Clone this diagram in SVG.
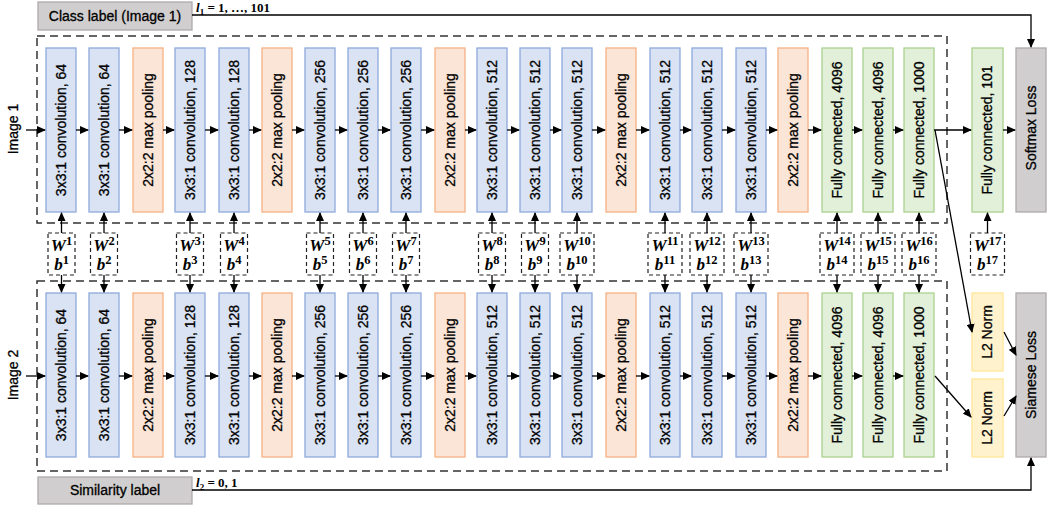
<svg xmlns="http://www.w3.org/2000/svg" width="1053" height="508" viewBox="0 0 1053 508">
<defs>
<marker id="ah" markerUnits="userSpaceOnUse" markerWidth="9" markerHeight="8" refX="8" refY="4" orient="auto"><path d="M0,0 L9,4 L0,8 z" fill="#000"/></marker>
<style>
.conv{fill:#dae3f3;stroke:#8faadc;stroke-width:1.3}
.pool{fill:#fbe5d6;stroke:#f4b183;stroke-width:1.3}
.fc{fill:#e2f0d9;stroke:#a9d18e;stroke-width:1.3}
.gray{fill:#d0cece;stroke:#aeaaaa;stroke-width:1.3}
.l2{fill:#fff2cc;stroke:#ffe699;stroke-width:1.3}
.t{font-family:"Liberation Sans",Arial,sans-serif;font-size:14px;fill:#000;stroke:#000;stroke-width:0.3;text-anchor:middle}
.ts{font-family:"Liberation Sans",Arial,sans-serif;font-size:14px;fill:#000;stroke:#000;stroke-width:0.3;text-anchor:middle}
.p{font-family:"Liberation Serif","Times New Roman",serif;font-size:17px;font-weight:bold;font-style:italic;fill:#000;text-anchor:middle}
.sup{font-size:12.5px;font-style:normal}
.lab{font-family:"Liberation Serif","Times New Roman",serif;font-size:13px;font-weight:bold;fill:#000}
.outer{fill:none;stroke:#333;stroke-width:1.5;stroke-dasharray:8 5}
.pbox{fill:#fff;stroke:#222;stroke-width:1.2;stroke-dasharray:4 3}
.ar{fill:none;stroke:#000;stroke-width:1.3;marker-end:url(#ah)}
</style>
</defs>
<rect width="1053" height="508" fill="#fff"/>

<g id="frames">
<rect class="outer" x="37" y="36" width="910" height="187"/>
<rect class="outer" x="37" y="281" width="910" height="190"/>
</g>

<g id="labels-side">
<text class="ts" transform="translate(18,129) rotate(-90)">Image 1</text>
<text class="ts" transform="translate(18,375) rotate(-90)">Image 2</text>
</g>

<g id="class-label"><rect class="gray" x="38" y="2" width="154" height="28"/><text class="ts" x="115" y="21">Class label (Image 1)</text></g>
<g id="similarity-label"><rect class="gray" x="38" y="477" width="154" height="27"/><text class="ts" x="115" y="495">Similarity label</text></g>

<g id="row1">
<rect class="conv" x="46" y="48" width="30" height="164"/><text class="t" transform="translate(66,130) rotate(-90)">3x3:1 convolution, 64</text>
<rect class="conv" x="89" y="48" width="30" height="164"/><text class="t" transform="translate(109,130) rotate(-90)">3x3:1 convolution, 64</text>
<rect class="pool" x="133" y="48" width="30" height="164"/><text class="t" transform="translate(153,130) rotate(-90)">2x2:2 max pooling</text>
<rect class="conv" x="175" y="48" width="30" height="164"/><text class="t" transform="translate(195,130) rotate(-90)">3x3:1 convolution, 128</text>
<rect class="conv" x="219" y="48" width="30" height="164"/><text class="t" transform="translate(239,130) rotate(-90)">3x3:1 convolution, 128</text>
<rect class="pool" x="262" y="48" width="30" height="164"/><text class="t" transform="translate(282,130) rotate(-90)">2x2:2 max pooling</text>
<rect class="conv" x="305" y="48" width="30" height="164"/><text class="t" transform="translate(325,130) rotate(-90)">3x3:1 convolution, 256</text>
<rect class="conv" x="348" y="48" width="30" height="164"/><text class="t" transform="translate(368,130) rotate(-90)">3x3:1 convolution, 256</text>
<rect class="conv" x="391" y="48" width="30" height="164"/><text class="t" transform="translate(411,130) rotate(-90)">3x3:1 convolution, 256</text>
<rect class="pool" x="435" y="48" width="30" height="164"/><text class="t" transform="translate(455,130) rotate(-90)">2x2:2 max pooling</text>
<rect class="conv" x="477" y="48" width="30" height="164"/><text class="t" transform="translate(497,130) rotate(-90)">3x3:1 convolution, 512</text>
<rect class="conv" x="520" y="48" width="30" height="164"/><text class="t" transform="translate(540,130) rotate(-90)">3x3:1 convolution, 512</text>
<rect class="conv" x="562" y="48" width="30" height="164"/><text class="t" transform="translate(582,130) rotate(-90)">3x3:1 convolution, 512</text>
<rect class="pool" x="606" y="48" width="30" height="164"/><text class="t" transform="translate(626,130) rotate(-90)">2x2:2 max pooling</text>
<rect class="conv" x="650" y="48" width="30" height="164"/><text class="t" transform="translate(670,130) rotate(-90)">3x3:1 convolution, 512</text>
<rect class="conv" x="692" y="48" width="30" height="164"/><text class="t" transform="translate(712,130) rotate(-90)">3x3:1 convolution, 512</text>
<rect class="conv" x="736" y="48" width="30" height="164"/><text class="t" transform="translate(756,130) rotate(-90)">3x3:1 convolution, 512</text>
<rect class="pool" x="778" y="48" width="30" height="164"/><text class="t" transform="translate(798,130) rotate(-90)">2x2:2 max pooling</text>
<rect class="fc" x="822" y="48" width="30" height="164"/><text class="t" transform="translate(842,130) rotate(-90)">Fully connected, 4096</text>
<rect class="fc" x="863" y="48" width="30" height="164"/><text class="t" transform="translate(883,130) rotate(-90)">Fully connected, 4096</text>
<rect class="fc" x="904" y="48" width="30" height="164"/><text class="t" transform="translate(924,130) rotate(-90)">Fully connected, 1000</text>
</g>

<g id="row2">
<rect class="conv" x="46" y="293" width="30" height="164"/><text class="t" transform="translate(66,375) rotate(-90)">3x3:1 convolution, 64</text>
<rect class="conv" x="89" y="293" width="30" height="164"/><text class="t" transform="translate(109,375) rotate(-90)">3x3:1 convolution, 64</text>
<rect class="pool" x="133" y="293" width="30" height="164"/><text class="t" transform="translate(153,375) rotate(-90)">2x2:2 max pooling</text>
<rect class="conv" x="175" y="293" width="30" height="164"/><text class="t" transform="translate(195,375) rotate(-90)">3x3:1 convolution, 128</text>
<rect class="conv" x="219" y="293" width="30" height="164"/><text class="t" transform="translate(239,375) rotate(-90)">3x3:1 convolution, 128</text>
<rect class="pool" x="262" y="293" width="30" height="164"/><text class="t" transform="translate(282,375) rotate(-90)">2x2:2 max pooling</text>
<rect class="conv" x="305" y="293" width="30" height="164"/><text class="t" transform="translate(325,375) rotate(-90)">3x3:1 convolution, 256</text>
<rect class="conv" x="348" y="293" width="30" height="164"/><text class="t" transform="translate(368,375) rotate(-90)">3x3:1 convolution, 256</text>
<rect class="conv" x="391" y="293" width="30" height="164"/><text class="t" transform="translate(411,375) rotate(-90)">3x3:1 convolution, 256</text>
<rect class="pool" x="435" y="293" width="30" height="164"/><text class="t" transform="translate(455,375) rotate(-90)">2x2:2 max pooling</text>
<rect class="conv" x="477" y="293" width="30" height="164"/><text class="t" transform="translate(497,375) rotate(-90)">3x3:1 convolution, 512</text>
<rect class="conv" x="520" y="293" width="30" height="164"/><text class="t" transform="translate(540,375) rotate(-90)">3x3:1 convolution, 512</text>
<rect class="conv" x="562" y="293" width="30" height="164"/><text class="t" transform="translate(582,375) rotate(-90)">3x3:1 convolution, 512</text>
<rect class="pool" x="606" y="293" width="30" height="164"/><text class="t" transform="translate(626,375) rotate(-90)">2x2:2 max pooling</text>
<rect class="conv" x="650" y="293" width="30" height="164"/><text class="t" transform="translate(670,375) rotate(-90)">3x3:1 convolution, 512</text>
<rect class="conv" x="692" y="293" width="30" height="164"/><text class="t" transform="translate(712,375) rotate(-90)">3x3:1 convolution, 512</text>
<rect class="conv" x="736" y="293" width="30" height="164"/><text class="t" transform="translate(756,375) rotate(-90)">3x3:1 convolution, 512</text>
<rect class="pool" x="778" y="293" width="30" height="164"/><text class="t" transform="translate(798,375) rotate(-90)">2x2:2 max pooling</text>
<rect class="fc" x="822" y="293" width="30" height="164"/><text class="t" transform="translate(842,375) rotate(-90)">Fully connected, 4096</text>
<rect class="fc" x="863" y="293" width="30" height="164"/><text class="t" transform="translate(883,375) rotate(-90)">Fully connected, 4096</text>
<rect class="fc" x="904" y="293" width="30" height="164"/><text class="t" transform="translate(924,375) rotate(-90)">Fully connected, 1000</text>
</g>

<g id="heads">
<rect class="fc" x="972" y="48" width="31" height="164"/><text class="t" transform="translate(992,130) rotate(-90)">Fully connected, 101</text>
<rect class="gray" x="1016" y="48" width="30" height="164"/><text class="ts" transform="translate(1036,128) rotate(-90)">Softmax Loss</text>
<rect class="l2" x="972" y="293" width="31" height="78"/><text class="ts" transform="translate(992,332) rotate(-90)">L2 Norm</text>
<rect class="l2" x="972" y="379" width="31" height="78"/><text class="ts" transform="translate(992,418) rotate(-90)">L2 Norm</text>
<rect class="gray" x="1016" y="293" width="30" height="164"/><text class="ts" transform="translate(1036,375) rotate(-90)">Siamese Loss</text>
</g>

<g id="params">
<rect class="pbox" x="48" y="233" width="27" height="42"/><text class="p" x="61.5" y="251">W<tspan class="sup" dy="-6">1</tspan></text><text class="p" x="61.5" y="270">b<tspan class="sup" dy="-6">1</tspan></text>
<rect class="pbox" x="90.5" y="233" width="27" height="42"/><text class="p" x="104" y="251">W<tspan class="sup" dy="-6">2</tspan></text><text class="p" x="104" y="270">b<tspan class="sup" dy="-6">2</tspan></text>
<rect class="pbox" x="176.5" y="233" width="27" height="42"/><text class="p" x="190" y="251">W<tspan class="sup" dy="-6">3</tspan></text><text class="p" x="190" y="270">b<tspan class="sup" dy="-6">3</tspan></text>
<rect class="pbox" x="220.5" y="233" width="27" height="42"/><text class="p" x="234" y="251">W<tspan class="sup" dy="-6">4</tspan></text><text class="p" x="234" y="270">b<tspan class="sup" dy="-6">4</tspan></text>
<rect class="pbox" x="306.5" y="233" width="27" height="42"/><text class="p" x="320" y="251">W<tspan class="sup" dy="-6">5</tspan></text><text class="p" x="320" y="270">b<tspan class="sup" dy="-6">5</tspan></text>
<rect class="pbox" x="349.5" y="233" width="27" height="42"/><text class="p" x="363" y="251">W<tspan class="sup" dy="-6">6</tspan></text><text class="p" x="363" y="270">b<tspan class="sup" dy="-6">6</tspan></text>
<rect class="pbox" x="392.5" y="233" width="27" height="42"/><text class="p" x="406" y="251">W<tspan class="sup" dy="-6">7</tspan></text><text class="p" x="406" y="270">b<tspan class="sup" dy="-6">7</tspan></text>
<rect class="pbox" x="478.5" y="233" width="27" height="42"/><text class="p" x="492" y="251">W<tspan class="sup" dy="-6">8</tspan></text><text class="p" x="492" y="270">b<tspan class="sup" dy="-6">8</tspan></text>
<rect class="pbox" x="521.5" y="233" width="27" height="42"/><text class="p" x="535" y="251">W<tspan class="sup" dy="-6">9</tspan></text><text class="p" x="535" y="270">b<tspan class="sup" dy="-6">9</tspan></text>
<rect class="pbox" x="560" y="233" width="34" height="42"/><text class="p" x="577" y="251">W<tspan class="sup" dy="-6">10</tspan></text><text class="p" x="577" y="270">b<tspan class="sup" dy="-6">10</tspan></text>
<rect class="pbox" x="648" y="233" width="34" height="42"/><text class="p" x="665" y="251">W<tspan class="sup" dy="-6">11</tspan></text><text class="p" x="665" y="270">b<tspan class="sup" dy="-6">11</tspan></text>
<rect class="pbox" x="690" y="233" width="34" height="42"/><text class="p" x="707" y="251">W<tspan class="sup" dy="-6">12</tspan></text><text class="p" x="707" y="270">b<tspan class="sup" dy="-6">12</tspan></text>
<rect class="pbox" x="734" y="233" width="34" height="42"/><text class="p" x="751" y="251">W<tspan class="sup" dy="-6">13</tspan></text><text class="p" x="751" y="270">b<tspan class="sup" dy="-6">13</tspan></text>
<rect class="pbox" x="820" y="233" width="34" height="42"/><text class="p" x="837" y="251">W<tspan class="sup" dy="-6">14</tspan></text><text class="p" x="837" y="270">b<tspan class="sup" dy="-6">14</tspan></text>
<rect class="pbox" x="861" y="233" width="34" height="42"/><text class="p" x="878" y="251">W<tspan class="sup" dy="-6">15</tspan></text><text class="p" x="878" y="270">b<tspan class="sup" dy="-6">15</tspan></text>
<rect class="pbox" x="902" y="233" width="34" height="42"/><text class="p" x="919" y="251">W<tspan class="sup" dy="-6">16</tspan></text><text class="p" x="919" y="270">b<tspan class="sup" dy="-6">16</tspan></text>
<rect class="pbox" x="970.5" y="233" width="34" height="42"/><text class="p" x="987.5" y="251">W<tspan class="sup" dy="-6">17</tspan></text><text class="p" x="987.5" y="270">b<tspan class="sup" dy="-6">17</tspan></text>
</g>

<g id="connectors">
<path class="ar" d="M26,130 H45"/>
<path class="ar" d="M76,130 H88"/><path class="ar" d="M119,130 H132"/><path class="ar" d="M163,130 H174"/><path class="ar" d="M205,130 H218"/><path class="ar" d="M249,130 H261"/><path class="ar" d="M292,130 H304"/><path class="ar" d="M335,130 H347"/><path class="ar" d="M378,130 H390"/><path class="ar" d="M421,130 H434"/><path class="ar" d="M465,130 H476"/><path class="ar" d="M507,130 H519"/><path class="ar" d="M550,130 H561"/><path class="ar" d="M592,130 H605"/><path class="ar" d="M636,130 H649"/><path class="ar" d="M680,130 H691"/><path class="ar" d="M722,130 H735"/><path class="ar" d="M766,130 H777"/><path class="ar" d="M808,130 H821"/><path class="ar" d="M852,130 H862"/><path class="ar" d="M893,130 H903"/>
<path class="ar" d="M26,376 H45"/>
<path class="ar" d="M76,376 H88"/><path class="ar" d="M119,376 H132"/><path class="ar" d="M163,376 H174"/><path class="ar" d="M205,376 H218"/><path class="ar" d="M249,376 H261"/><path class="ar" d="M292,376 H304"/><path class="ar" d="M335,376 H347"/><path class="ar" d="M378,376 H390"/><path class="ar" d="M421,376 H434"/><path class="ar" d="M465,376 H476"/><path class="ar" d="M507,376 H519"/><path class="ar" d="M550,376 H561"/><path class="ar" d="M592,376 H605"/><path class="ar" d="M636,376 H649"/><path class="ar" d="M680,376 H691"/><path class="ar" d="M722,376 H735"/><path class="ar" d="M766,376 H777"/><path class="ar" d="M808,376 H821"/><path class="ar" d="M852,376 H862"/><path class="ar" d="M893,376 H903"/>

<path class="ar" d="M934,130 H971"/>
<path class="ar" d="M1003,130 H1015"/>
<path class="ar" d="M935,130 L972,332"/>
<path class="ar" d="M935,376 L971,417"/>
<path class="ar" d="M1004,332 L1016,355"/>
<path class="ar" d="M1004,416 L1016,396"/>

<path class="ar" d="M192,15 H1031 V47"/>
<path class="ar" d="M192,490 H1031 V458"/>

<path class="ar" d="M61.5,233 V213"/><path class="ar" d="M61.5,275 V292"/>
<path class="ar" d="M104,233 V213"/><path class="ar" d="M104,275 V292"/>
<path class="ar" d="M190,233 V213"/><path class="ar" d="M190,275 V292"/>
<path class="ar" d="M234,233 V213"/><path class="ar" d="M234,275 V292"/>
<path class="ar" d="M320,233 V213"/><path class="ar" d="M320,275 V292"/>
<path class="ar" d="M363,233 V213"/><path class="ar" d="M363,275 V292"/>
<path class="ar" d="M406,233 V213"/><path class="ar" d="M406,275 V292"/>
<path class="ar" d="M492,233 V213"/><path class="ar" d="M492,275 V292"/>
<path class="ar" d="M535,233 V213"/><path class="ar" d="M535,275 V292"/>
<path class="ar" d="M577,233 V213"/><path class="ar" d="M577,275 V292"/>
<path class="ar" d="M665,233 V213"/><path class="ar" d="M665,275 V292"/>
<path class="ar" d="M707,233 V213"/><path class="ar" d="M707,275 V292"/>
<path class="ar" d="M751,233 V213"/><path class="ar" d="M751,275 V292"/>
<path class="ar" d="M837,233 V213"/><path class="ar" d="M837,275 V292"/>
<path class="ar" d="M878,233 V213"/><path class="ar" d="M878,275 V292"/>
<path class="ar" d="M919,233 V213"/><path class="ar" d="M919,275 V292"/>
<path class="ar" d="M987.5,233 V213"/>
</g>

<g id="edge-labels">
<text class="lab" x="196" y="12"><tspan font-style="italic">l</tspan><tspan font-size="9" dy="3">1</tspan><tspan dy="-3"> = 1, …, 101</tspan></text>
<text class="lab" x="196" y="487"><tspan font-style="italic">l</tspan><tspan font-size="9" dy="3">2</tspan><tspan dy="-3"> = 0, 1</tspan></text>
</g>
</svg>
